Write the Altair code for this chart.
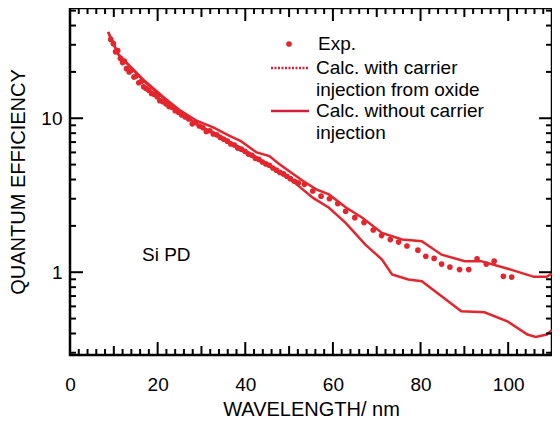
import altair as alt
import pandas as pd

# ---------------- data ----------------
upper_x = [8.7, 11.0, 13.9, 17.0, 21.5, 25.2, 29.0, 32.8, 36.3, 39.0, 42.6, 45.5, 47.5, 49.4,
           53.2, 56.2, 59.1, 62.9, 66.7, 71.2, 75.8, 80.3, 84.8, 90.1, 93.8, 100.6, 105.9,
           108.8, 110.0]
upper_v = [36.3, 26.1, 21.5, 17.5, 13.6, 11.2, 9.6, 8.7, 7.7, 7.1, 6.0, 5.68, 5.1, 4.66,
           3.91, 3.45, 3.2, 2.64, 2.26, 1.80, 1.63, 1.59, 1.30, 1.18, 1.18, 1.04, 0.933,
           0.933, 0.98]

lower_x = [8.7, 11.0, 13.9, 17.0, 21.5, 25.2, 29.0, 33.6, 38.1, 42.6, 47.1, 50.9, 55.4,
           59.1, 62.9, 67.4, 71.2, 73.5, 77.2, 80.3, 84.8, 89.3, 94.6, 99.8, 104.4, 106.3,
           108.8, 110.0]
lower_v = [36.3, 26.0, 21.3, 17.3, 13.4, 11.0, 9.1, 7.87, 6.61, 5.57, 4.59, 3.89, 3.05,
           2.62, 2.09, 1.51, 1.21, 0.966, 0.897, 0.874, 0.698, 0.557, 0.549, 0.480, 0.394,
           0.380, 0.394, 0.42]

exp_x = [9.3, 9.9, 10.4, 10.9, 11.5, 12.0, 12.4, 12.9, 13.5, 14.0, 14.6, 15.1, 15.7, 16.3,
         16.8, 17.4, 18.0, 18.6, 19.2, 19.9, 20.5, 21.2, 21.9, 22.6, 23.3, 24.0, 24.8, 25.5,
         26.3, 27.1, 27.9, 28.7, 29.5, 30.3, 31.1, 31.9, 32.7, 33.5, 34.3, 35.1, 35.9, 36.7,
         37.5, 38.3, 39.1, 39.9, 40.7, 41.5, 42.3, 43.1, 43.9, 44.7, 45.5, 46.3, 47.1, 47.9,
         48.7, 49.5, 50.3, 51.2, 52.1,
         53.5, 55.4, 57.3, 59.2, 61.1, 62.9, 65.0, 67.1, 69.2, 71.1, 73.1, 75.0, 76.9, 79.4,
         81.2, 83.1, 84.8, 86.7, 88.9, 91.0, 92.9, 95.0, 96.8, 98.9, 100.8]
exp_v = [32.5, 30.5, 27.0, 27.5, 24.5, 23.0, 23.5, 21.0, 20.0, 20.5, 18.5, 18.8, 17.0, 17.4,
         16.0, 15.6, 15.2, 14.5, 14.3, 13.8, 13.0, 12.8, 12.4, 11.9, 11.8, 11.2, 10.9, 10.5,
         10.2, 9.9, 9.2, 9.4, 8.9, 8.7, 8.2, 8.3, 7.9, 7.8, 7.5, 7.3, 7.1, 6.8,
         6.7, 6.4, 6.3, 6.1, 5.85, 5.75, 5.5, 5.4, 5.2, 5.05, 4.95, 4.75, 4.6, 4.45,
         4.35, 4.2, 4.05, 3.9, 3.8,
         3.72, 3.37, 3.12, 3.00, 2.79, 2.49, 2.26, 2.10, 1.88, 1.73, 1.63, 1.57, 1.48, 1.39,
         1.27, 1.23, 1.13, 1.08, 1.04, 1.04, 1.22, 1.13, 1.18, 0.94, 0.93]

x_label_vals = [0, 20, 40, 60, 80, 100]
y_label_vals = [1, 10]
x_minor = [v for v in range(0, 111, 2) if v % 10 != 0]
x_mid = [10, 30, 50, 70, 90, 110]
x_major = [20, 40, 60, 80, 100]
y_minor = [0.3, 0.4, 0.5, 0.6, 0.7, 0.8, 0.9, 2, 3, 4, 5, 6, 7, 8, 9, 20, 30, 40, 50]
y_major = [1, 10]

# ---------------- styling ----------------
RED = "#e3262e"
LEG_RED = "#d21e3a"
FONT = "Liberation Sans"
W, H = 482, 347

xscale = alt.Scale(domain=[0, 110], nice=False, zero=False)
yscale = alt.Scale(type="log", domain=[0.29, 52], nice=False)

xaxis = alt.Axis(values=x_label_vals, title="WAVELENGTH/ nm", ticks=False, domain=False,
                 grid=False, labelFont=FONT, labelFontSize=19, labelColor="black",
                 labelPadding=20, titleFont=FONT, titleFontSize=20, titleFontWeight="normal",
                 titleColor="black", titlePadding=5, labelFlush=False)
yaxis = alt.Axis(values=y_label_vals, format="~g", title="QUANTUM EFFICIENCY", ticks=False,
                 domain=False, grid=False, labelFont=FONT, labelFontSize=19,
                 labelColor="black", labelPadding=8, titleFont=FONT, titleFontSize=20,
                 titleFontWeight="normal", titleColor="black", titlePadding=12)

X = lambda f: alt.X(f, scale=xscale, axis=xaxis)
Y = lambda f: alt.Y(f, scale=yscale, axis=yaxis)

upper = pd.DataFrame({"x": upper_x, "v": upper_v})
lower = pd.DataFrame({"x": lower_x, "v": lower_v})
exp = pd.DataFrame({"x": exp_x, "v": exp_v})

lower_line = alt.Chart(lower).mark_line(color=RED, strokeWidth=2.5, clip=True).encode(
    x=X("x:Q"), y=Y("v:Q"))
upper_line = alt.Chart(upper).mark_line(color=RED, strokeWidth=2.5, clip=True).encode(
    x=X("x:Q"), y=Y("v:Q"))
dots = alt.Chart(exp).mark_circle(color=RED, size=32, opacity=1).encode(
    x=X("x:Q"), y=Y("v:Q"))


def xticks(vals, length):
    d = pd.DataFrame({"x": vals})
    b = alt.Chart(d).mark_rule(color="black", strokeWidth=2).encode(
        x=X("x:Q"), y=alt.value(H), y2=alt.value(H - length))
    t = alt.Chart(d).mark_rule(color="black", strokeWidth=2).encode(
        x=X("x:Q"), y=alt.value(0), y2=alt.value(length))
    return [b, t]


def yticks(vals, length):
    d = pd.DataFrame({"v": vals})
    l = alt.Chart(d).mark_rule(color="black", strokeWidth=2).encode(
        y=Y("v:Q"), x=alt.value(0), x2=alt.value(length))
    r = alt.Chart(d).mark_rule(color="black", strokeWidth=2).encode(
        y=Y("v:Q"), x=alt.value(W), x2=alt.value(W - length))
    return [l, r]


one = pd.DataFrame({"a": [0]})


def label(txt, x, y, size=19):
    return alt.Chart(one).mark_text(align="left", baseline="middle", font=FONT,
                                    fontSize=size, color="black").encode(
        x=alt.value(x), y=alt.value(y), text=alt.value(txt))


legend = [
    alt.Chart(one).mark_circle(color=RED, size=32, opacity=1).encode(
        x=alt.value(219), y=alt.value(36)),
    label("Exp.", 248, 36),
    alt.Chart(one).mark_rule(color=LEG_RED, strokeWidth=2.5, strokeDash=[2, 1.5]).encode(
        x=alt.value(201), x2=alt.value(239), y=alt.value(60)),
    label("Calc. with carrier", 246, 60),
    label("injection from oxide", 246, 82),
    alt.Chart(one).mark_rule(color=LEG_RED, strokeWidth=2.5).encode(
        x=alt.value(201), x2=alt.value(239), y=alt.value(103)),
    label("Calc. without carrier", 246, 103),
    label("injection", 246, 125),
    label("Si PD", 72, 247, 19),
]

layers = [lower_line, upper_line, dots]
layers += xticks(x_minor, 6) + xticks(x_mid, 9) + xticks(x_major, 13)
layers += yticks(y_minor, 6) + yticks(y_major, 13)
layers += legend

chart = alt.layer(*layers).properties(
    width=W, height=H,
    background="white",
    autosize=alt.AutoSizeParams(type="none"),
    padding={"left": 62, "top": 0, "right": 0, "bottom": 64},
).configure_view(stroke="black", strokeWidth=2.5)

chart.save("out.html", embed_options={"renderer": "svg", "actions": False})
